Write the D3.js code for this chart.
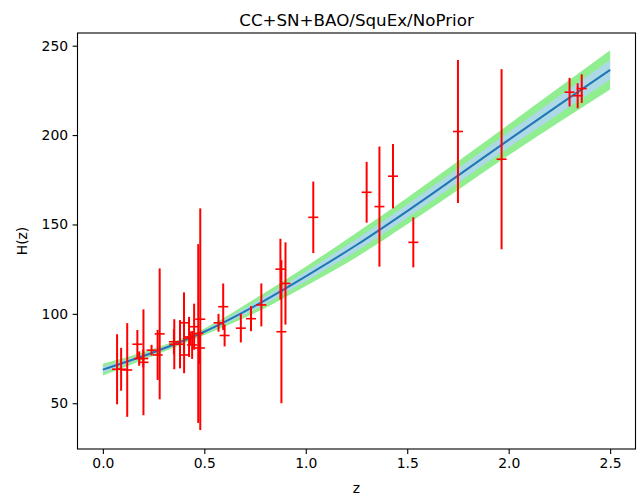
<!DOCTYPE html>
<html><head><meta charset="utf-8">
<script src="https://cdn.jsdelivr.net/npm/d3@7"></script>
<style>body{margin:0;background:#fff}svg{display:block}text{font-family:"DejaVu Sans",sans-serif}</style>
</head><body><svg id="c" width="640" height="497"></svg>
<script>
// Observational data: redshift, H(z), sigma
const obsZ   = [0.07,0.09,0.12,0.17,0.179,0.199,0.2,0.24,0.27,0.28,0.35,0.352,0.3802,0.4,0.4004,0.4247,0.43,0.44,0.4497,0.47,0.4783,0.48,0.57,0.593,0.6,0.68,0.73,0.781,0.875,0.88,0.9,1.037,1.3,1.363,1.43,1.53,1.75,1.965,2.3,2.34,2.36];
const obsH   = [69,69,68.6,83,75,75,72.9,79.69,77,88.8,84.4,83,83,95,77,87.1,86.45,82.6,92.8,89,80.9,97,95,104,87.9,92,97.3,105,125,90,117,154,168,160,177,140,202,186.5,224,222,226];
const obsErr = [19.6,12,26.2,8,4,5,29.6,2.99,14,36.6,7,14,13.5,17,10.2,11.2,3.68,7.8,12.9,50,9,62,5,13,6.1,8,7,12,17,40,23,20,17,33.6,18,14,40,50.4,8,7,8];
// Reconstructed H(z) curve and its 1σ / 2σ half-widths
const curveZ  = [0,0.25,0.5,0.75,1.0,1.25,1.5,1.75,2.0,2.25,2.5];
const curveH  = [68.8,78.5,90,104.5,121,138.5,157.5,177.3,197.3,217,236.5];
const sigma1  = [1.7,1.0,0.9,2.0,2.7,3.4,3.7,4.0,4.3,4.9,5.5];
const sigma2  = [3.3,2.0,1.8,4.0,5.4,6.8,7.4,8.0,8.6,9.7,11];
const xTicks = [0,0.5,1.0,1.5,2.0,2.5];
const yTicks = [50,100,150,200,250];

const svg = d3.select("#c");
const L=77.5,R=635.5,T=33,B=449;
const x = d3.scaleLinear().domain([-0.125,2.625]).range([L,R]);
const y = d3.scaleLinear().domain([24.4,257.1]).range([B,T]);

const curve = curveZ.map((z,i)=>({z,h:curveH[i],s1:sigma1[i],s2:sigma2[i]}));
const area = k => d3.area().x(d=>x(d.z)).y0(d=>y(d.h-d[k])).y1(d=>y(d.h+d[k])).curve(d3.curveMonotoneX);
svg.append("path").datum(curve).attr("d",area("s2")).attr("fill","#90ee90");
svg.append("path").datum(curve).attr("d",area("s1")).attr("fill","#add8e6");
svg.append("path").datum(curve).attr("d",d3.line().x(d=>x(d.z)).y(d=>y(d.h)).curve(d3.curveMonotoneX))
  .attr("fill","none").attr("stroke","#1f77b4").attr("stroke-width",2);

const obs = obsZ.map((z,i)=>({z,h:obsH[i],e:obsErr[i]}));
const g = svg.append("g");
obs.forEach(d=>{
  g.append("line").attr("x1",x(d.z)).attr("x2",x(d.z)).attr("y1",y(d.h-d.e)).attr("y2",y(d.h+d.e))
   .attr("stroke","#ff0000").attr("stroke-width",2);
  g.append("line").attr("x1",x(d.z)-5).attr("x2",x(d.z)+5).attr("y1",y(d.h)).attr("y2",y(d.h))
   .attr("stroke","#ff0000").attr("stroke-width",1.6);
});

const xa = svg.append("g").attr("transform",`translate(0,${B})`)
  .call(d3.axisBottom(x).tickValues(xTicks).tickFormat(d3.format(".1f")).tickSizeOuter(0).tickSize(4.9).tickPadding(4.5));
const ya = svg.append("g").attr("transform",`translate(${L},0)`)
  .call(d3.axisLeft(y).tickValues(yTicks).tickSizeOuter(0).tickSize(4.9).tickPadding(4.5));
[xa,ya].forEach(a=>{a.select(".domain").remove();a.selectAll("line").attr("stroke","#000").attr("stroke-width",1.1);
  a.selectAll("text").attr("font-size",13.9).attr("fill","#000").attr("font-family","DejaVu Sans");});
svg.append("rect").attr("x",L).attr("y",T).attr("width",R-L).attr("height",B-T)
  .attr("fill","none").attr("stroke","#000").attr("stroke-width",1.1);

svg.append("text").attr("x",(L+R)/2).attr("y",26).attr("text-anchor","middle").attr("font-size",16.7).text("CC+SN+BAO/SquEx/NoPrior");
svg.append("text").attr("x",(L+R)/2).attr("y",493).attr("text-anchor","middle").attr("font-size",13.9).text("z");
svg.append("text").attr("transform","translate(27,241) rotate(-90)").attr("text-anchor","middle").attr("font-size",13.9).text("H(z)");
</script></body></html>
